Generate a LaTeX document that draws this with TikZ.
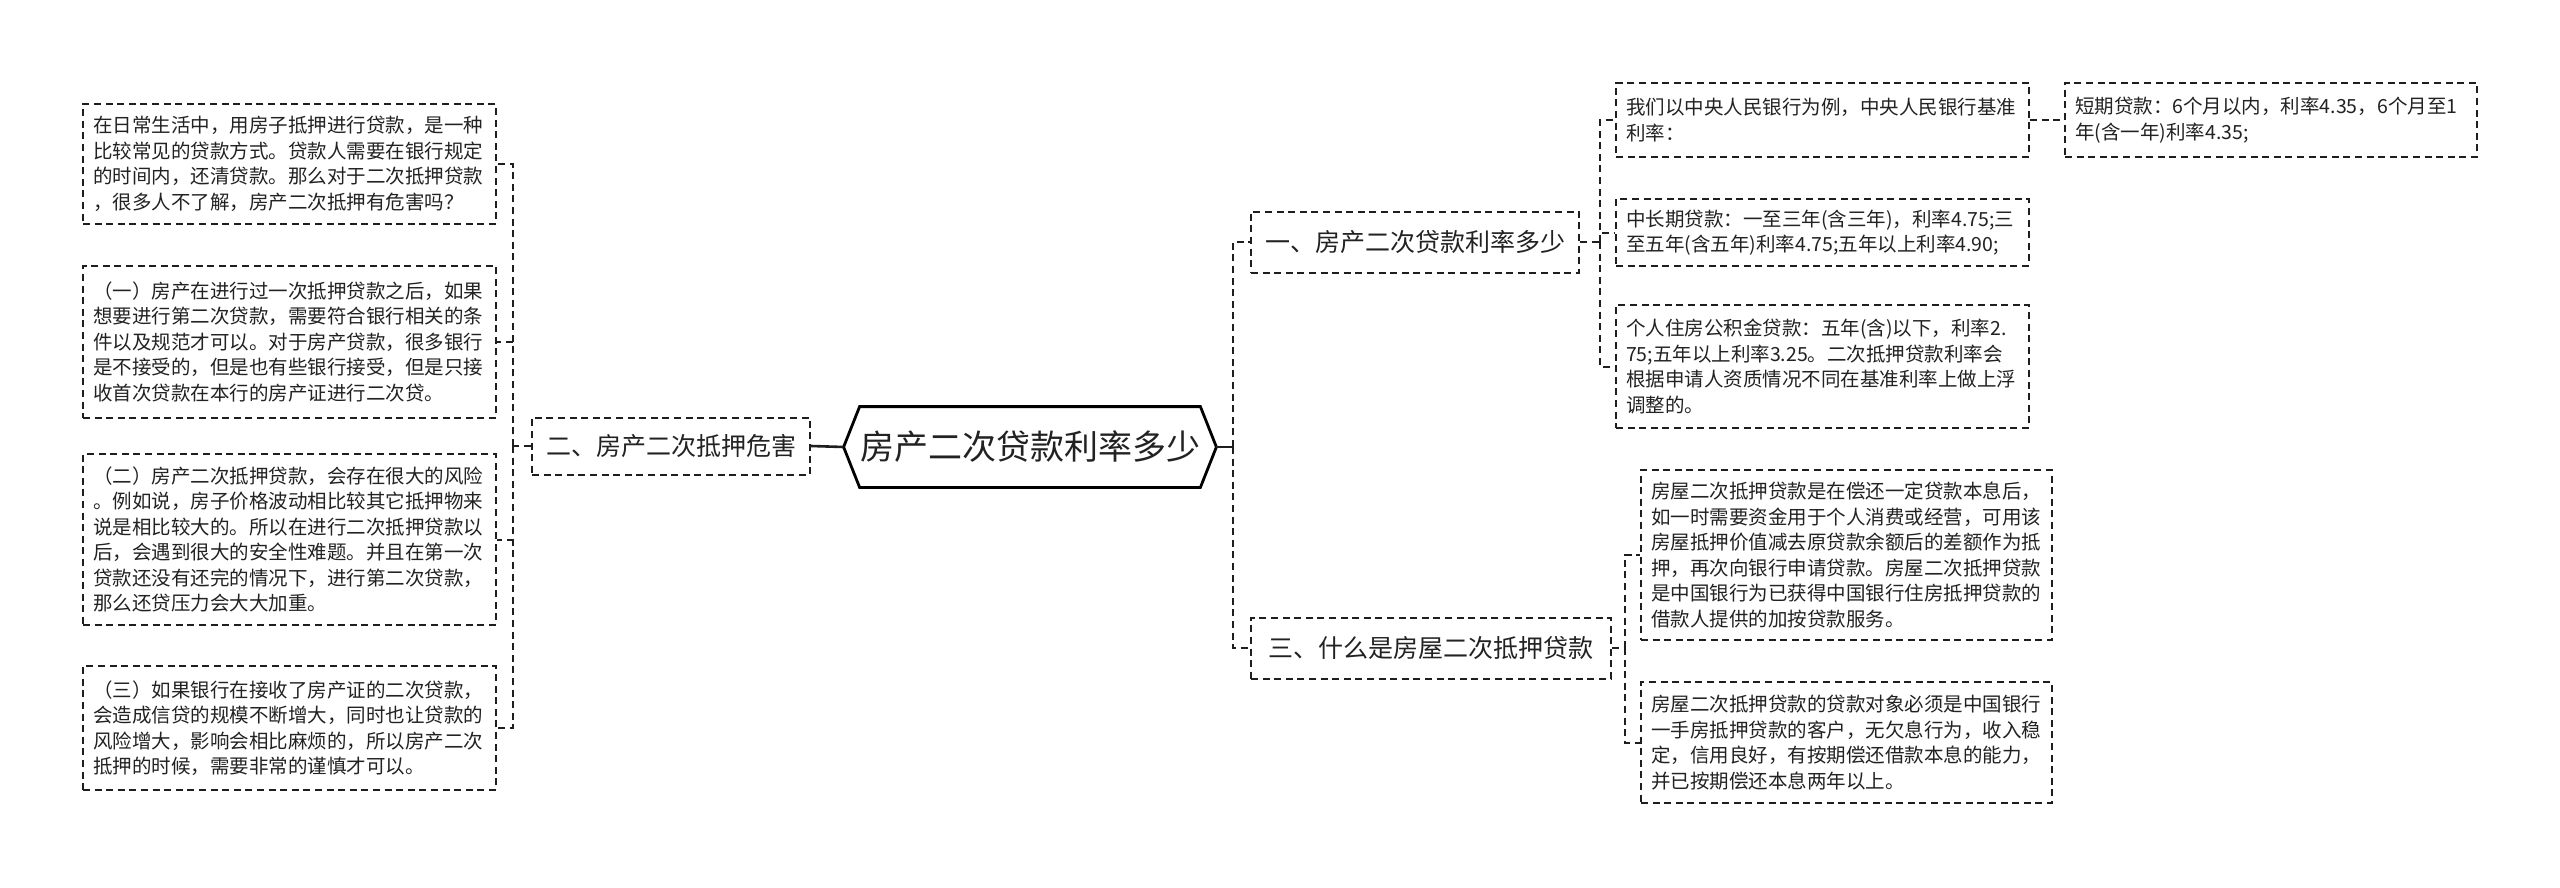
\documentclass[tikz,border=0pt]{standalone}
\usepackage{fontspec}
\newfontfamily\cjk{Noto Sans CJK SC}
\definecolor{dcol}{HTML}{1E1E1E}
\definecolor{tcol}{HTML}{222222}
\begin{document}
\begin{tikzpicture}[x=0.5pt,y=-0.5pt,
 dl/.style={draw=dcol, line width=1pt, dash pattern=on 3.5pt off 2.3pt},
 leaf/.style={dl, text=tcol, font=\cjk\fontsize{9.75pt}{12.75pt}\selectfont, align=left, inner xsep=5pt, inner ysep=0pt},
 br/.style={dl, text=tcol, font=\cjk\fontsize{12.5pt}{15pt}\selectfont, inner sep=0pt},
 conn/.style={draw=dcol, line width=1pt, dash pattern=on 3.5pt off 2.3pt},
 solidc/.style={draw=dcol, line width=1.3pt}]
\useasboundingbox (0,0) rectangle (2560,888);
\fill[white] (0,0) rectangle (2560,888);

% root
\node[inner sep=0pt, minimum width=186pt, minimum height=40pt, text=tcol,
      font=\cjk\fontsize{17pt}{20pt}\selectfont] (root) at (1030,447) {房产二次贷款利率多少};
\draw[draw=black, line width=1.4pt, line join=miter]
  (root.west) -- ([xshift=8pt]root.north west) -- ([xshift=-8pt]root.north east)
  -- (root.east) -- ([xshift=-8pt]root.south east) -- ([xshift=8pt]root.south west) -- cycle;

% branches
\node[br, minimum width=139pt, minimum height=28.5pt] (b2) at (671,446) {二、房产二次抵押危害};
\node[br, minimum width=164pt, minimum height=30.5pt] (b1) at (1415,242) {一、房产二次贷款利率多少};
\node[br, minimum width=180pt, minimum height=30.5pt] (b3) at (1431,648) {三、什么是房屋二次抵押贷款};

% left leaves
\node[leaf, text width=196.5pt, minimum height=60pt] (l1) at (289.5,164) {在日常生活中，用房子抵押进行贷款，是一种\\比较常见的贷款方式。贷款人需要在银行规定\\的时间内，还清贷款。那么对于二次抵押贷款\\，很多人不了解，房产二次抵押有危害吗？};
\node[leaf, text width=196.5pt, minimum height=76pt] (l2) at (289.5,342) {（一）房产在进行过一次抵押贷款之后，如果\\想要进行第二次贷款，需要符合银行相关的条\\件以及规范才可以。对于房产贷款，很多银行\\是不接受的，但是也有些银行接受，但是只接\\收首次贷款在本行的房产证进行二次贷。};
\node[leaf, text width=196.5pt, minimum height=85.5pt] (l3) at (289.5,539.5) {（二）房产二次抵押贷款，会存在很大的风险\\。例如说，房子价格波动相比较其它抵押物来\\说是相比较大的。所以在进行二次抵押贷款以\\后，会遇到很大的安全性难题。并且在第一次\\贷款还没有还完的情况下，进行第二次贷款，\\那么还贷压力会大大加重。};
\node[leaf, text width=196.5pt, minimum height=62pt] (l4) at (289.5,728) {（三）如果银行在接收了房产证的二次贷款，\\会造成信贷的规模不断增大，同时也让贷款的\\风险增大，影响会相比麻烦的，所以房产二次\\抵押的时候，需要非常的谨慎才可以。};

% right leaves (branch 1)
\node[leaf, text width=196.5pt, minimum height=37pt] (ra) at (1822.5,120) {我们以中央人民银行为例，中央人民银行基准\\利率：};
\node[leaf, text width=196pt, minimum height=37pt] (rac) at (2271,120) {短期贷款：6个月以内，利率4.35，6个月至1\\年(含一年)利率4.35;};
\node[leaf, text width=196.5pt, minimum height=33.5pt] (rb) at (1822.5,232.5) {中长期贷款：一至三年(含三年)，利率4.75;三\\至五年(含五年)利率4.75;五年以上利率4.90;};
\node[leaf, text width=196.5pt, minimum height=61.5pt] (rc) at (1822.5,366.5) {个人住房公积金贷款：五年(含)以下，利率2.\\75;五年以上利率3.25。二次抵押贷款利率会\\根据申请人资质情况不同在基准利率上做上浮\\调整的。};

% right leaves (branch 3)
\node[leaf, text width=195.5pt, minimum height=85pt] (rd) at (1846.5,555) {房屋二次抵押贷款是在偿还一定贷款本息后，\\如一时需要资金用于个人消费或经营，可用该\\房屋抵押价值减去原贷款余额后的差额作为抵\\押，再次向银行申请贷款。房屋二次抵押贷款\\是中国银行为已获得中国银行住房抵押贷款的\\借款人提供的加按贷款服务。};
\node[leaf, text width=195.5pt, minimum height=60.5pt] (re) at (1846.5,742.5) {房屋二次抵押贷款的贷款对象必须是中国银行\\一手房抵押贷款的客户，无欠息行为，收入稳\\定，信用良好，有按期偿还借款本息的能力，\\并已按期偿还本息两年以上。};

% junctions
\coordinate (jL) at (513,446);
\coordinate (jR) at (1233,447);
\coordinate (jR1) at (1600,242);
\coordinate (jR3) at (1625,648);

% connectors
\draw[solidc] (root.west) -- (b2.east);
\draw[solidc] (root.east) -- (jR);
\draw[conn] (jR) |- (b1.west);
\draw[conn] (jR) |- (b3.west);

\draw[conn] (b2.west) -- (jL);
\draw[conn] (jL) |- (l1.east);
\draw[conn] (jL) |- (l2.east);
\draw[conn] (jL) |- (l3.east);
\draw[conn] (jL) |- (l4.east);

\draw[conn] (b1.east) -- (jR1);
\draw[conn] (jR1) |- (ra.west);
\draw[conn] (jR1) |- (rb.west);
\draw[conn] (jR1) |- (rc.west);
\draw[conn] (ra.east) -- (rac.west);

\draw[conn] (b3.east) -- (jR3);
\draw[conn] (jR3) |- (rd.west);
\draw[conn] (jR3) |- (re.west);
\end{tikzpicture}
\end{document}
